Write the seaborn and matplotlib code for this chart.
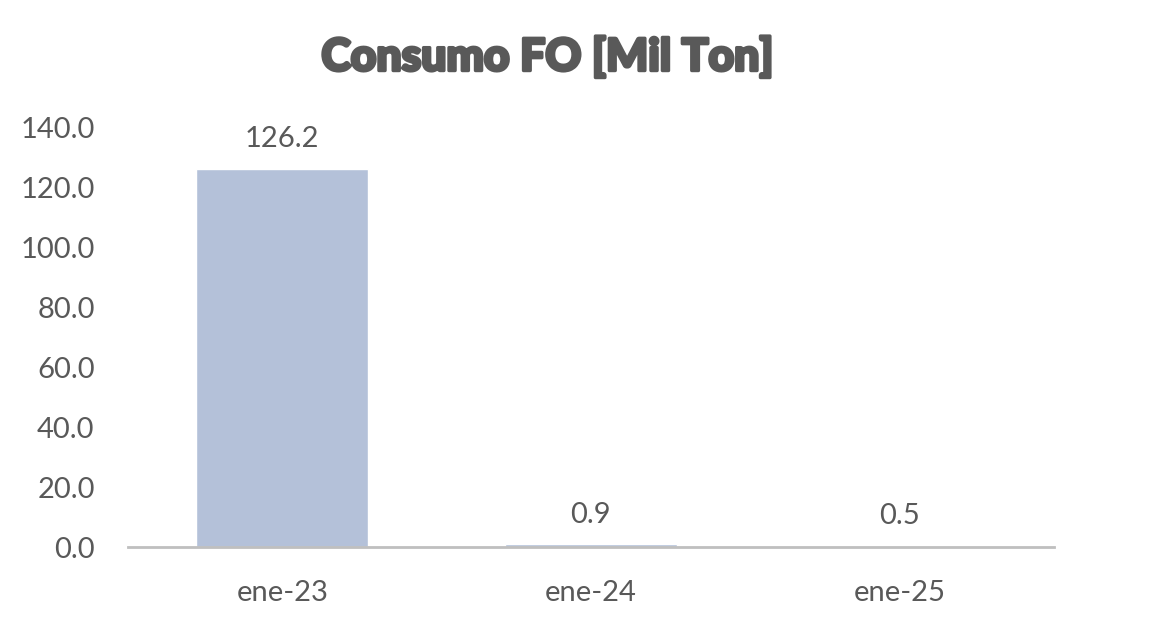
import matplotlib
matplotlib.use("Agg")
import matplotlib.pyplot as plt
import matplotlib.patheffects as pe
import seaborn as sns
import pandas as pd

categories = ["ene-23", "ene-24", "ene-25"]
values = [126.2, 0.9, 0.5]
value_labels = ["126.2", "0.9", "0.5"]
y_ticks = [0, 20, 40, 60, 80, 100, 120, 140]

BAR_COLOR = "#B4C1D9"
TEXT_COLOR = "#595959"

sns.set_theme(style="white")
plt.rcParams["font.family"] = ["Lato", "DejaVu Sans"]

df = pd.DataFrame({"mes": categories, "consumo": values})

fig = plt.figure(figsize=(11.53, 6.2), dpi=100)
ax = fig.add_axes([0.111, 0.1177, 0.803, 0.677])

sns.barplot(data=df, x="mes", y="consumo", color=BAR_COLOR, width=0.557,
            saturation=1, ax=ax)

ax.set_ylim(0, 140)
ax.set_xlim(-0.5, 2.5)
ax.set_yticks(y_ticks)
ax.set_yticklabels([f"{t:.1f}" for t in y_ticks])
ax.set_xlabel("")
ax.set_ylabel("")
ax.tick_params(axis="both", length=0, labelsize=21, colors=TEXT_COLOR)
ax.tick_params(axis="y", pad=24)
ax.tick_params(axis="x", pad=24)

for side in ["top", "right", "left"]:
    ax.spines[side].set_visible(False)
ax.spines["bottom"].set_color("#BFBFBF")
ax.spines["bottom"].set_linewidth(2)

for i, (v, lab) in enumerate(zip(values, value_labels)):
    ax.annotate(lab, (i, v), xytext=(0, 21), textcoords="offset points",
                ha="center", va="center", fontsize=21, color=TEXT_COLOR)

fig.text(548 / 1153, 0.908, "Consumo FO [Mil Ton]", ha="center", va="center",
         fontsize=32, fontweight="black", color=TEXT_COLOR,
         path_effects=[pe.withStroke(linewidth=2.4, foreground=TEXT_COLOR)])

fig.savefig("out.png", dpi=100, facecolor="white")
